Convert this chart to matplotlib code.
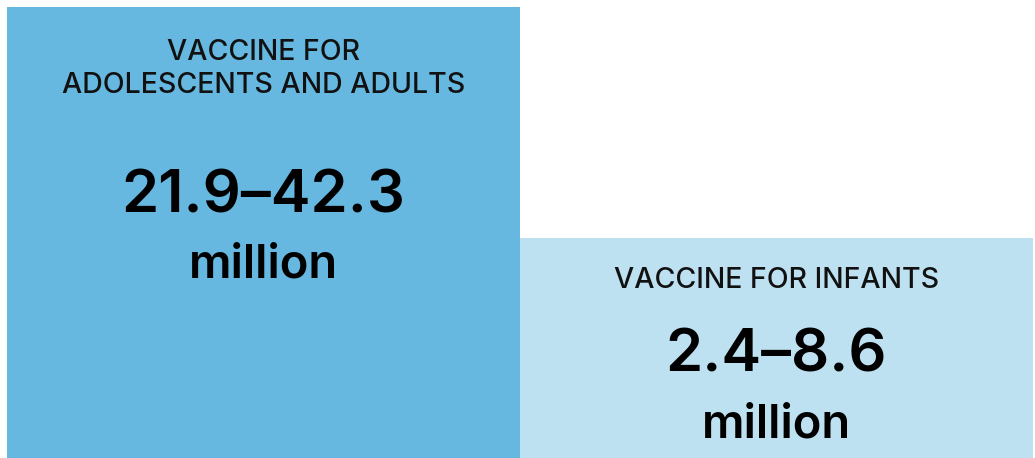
import matplotlib
matplotlib.use("Agg")
import matplotlib.pyplot as plt

# data
groups = ["VACCINE FOR\nADOLESCENTS AND ADULTS", "VACCINE FOR INFANTS"]
low = [21.9, 2.4]
high = [42.3, 8.6]
unit = "million"

colors = ["#66b8e1", "#bee1f2"]
rel_height = [1.0, 220 / 451]  # layout of the tiles

plt.rcParams["font.family"] = ["Inter", "DejaVu Sans"]

fig = plt.figure(figsize=(10.35, 4.58), dpi=100)
ax = fig.add_axes([7 / 1035, 0, 1026 / 1035, 451 / 458])
xs = [0.5, 1.5]
ax.bar(xs, rel_height, width=1.0, color=colors, linewidth=0)
ax.set_xlim(0, 2)
ax.set_ylim(0, 1)
ax.axis("off")


def ypix(py):
    # pixel row from top of image -> data y
    return (458 - py) / 451


label_base = [93, 288]
num_base = [212, 372]
unit_base = [278, 438]

for i in range(2):
    ax.text(xs[i], ypix(label_base[i]), groups[i], ha="center", va="baseline",
            fontsize=20.5, fontweight="medium", linespacing=1.27, color="#111111")
    ax.text(xs[i], ypix(num_base[i]), "{}\u2013{}".format(low[i], high[i]),
            ha="center", va="baseline", fontsize=43, fontweight="semibold",
            color="#000000")
    ax.text(xs[i], ypix(unit_base[i]), unit, ha="center", va="baseline",
            fontsize=34, fontweight="semibold", color="#000000")

fig.savefig("out.png", dpi=100)
